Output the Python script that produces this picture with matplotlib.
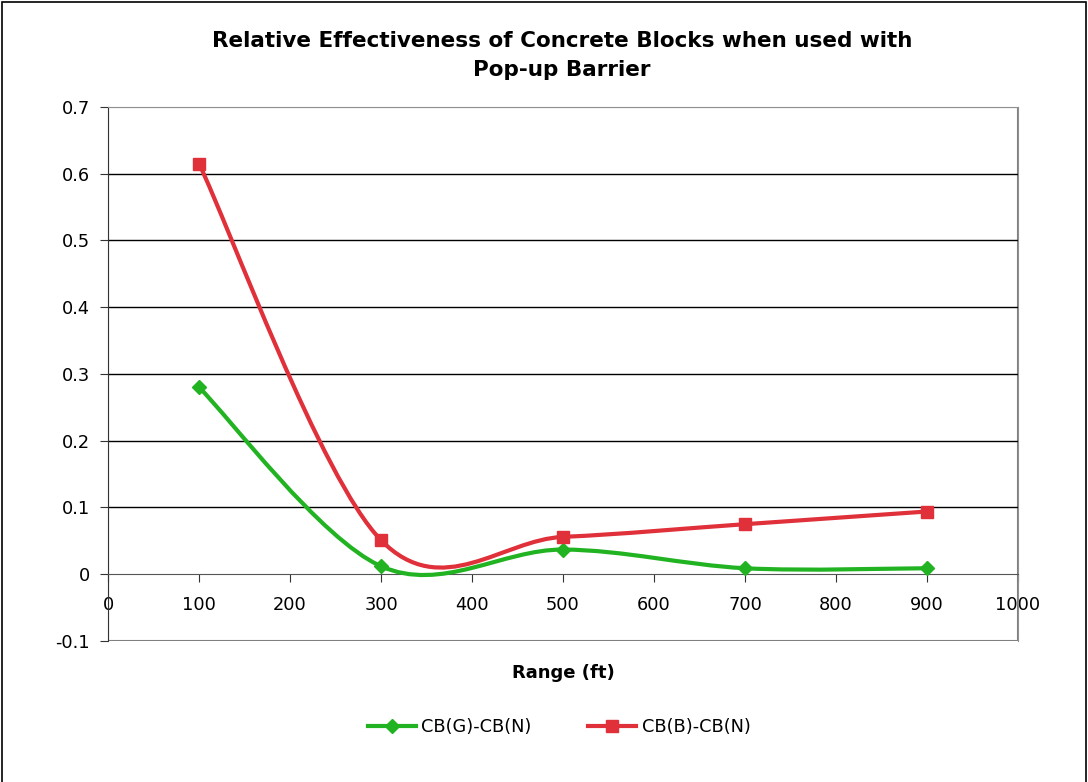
import numpy as np
import matplotlib
matplotlib.use("Agg")
import matplotlib.pyplot as plt
from matplotlib.path import Path
from matplotlib.patches import PathPatch, Rectangle
from matplotlib.lines import Line2D

# data
range_ft = [100, 300, 500, 700, 900]
cb_g = [0.280, 0.012, 0.037, 0.009, 0.009]
cb_b = [0.615, 0.051, 0.056, 0.075, 0.094]
series_names = ["CB(G)-CB(N)", "CB(B)-CB(N)"]
x_ticks = list(range(0, 1001, 100))
y_ticks = [-0.1, 0, 0.1, 0.2, 0.3, 0.4, 0.5, 0.6, 0.7]
y_labels = ["-0.1", "0", "0.1", "0.2", "0.3", "0.4", "0.5", "0.6", "0.7"]

green = "#22b322"
red = "#e0303a"
fs = 12.8

plt.rcParams["font.family"] = ["DejaVu Sans"]


def smooth_path(xs, ys):
    # Excel-style smoothed line: cubic bezier through every point
    p = np.column_stack([xs, ys]).astype(float)
    n = len(p)
    verts = [p[0]]
    codes = [Path.MOVETO]
    for i in range(n - 1):
        p0 = p[i - 1] if i > 0 else p[i]
        p3 = p[i + 2] if i + 2 < n else p[i + 1]
        c1 = p[i] + (p[i + 1] - p0) / 6.0
        c2 = p[i + 1] - (p3 - p[i]) / 6.0
        verts += [c1, c2, p[i + 1]]
        codes += [Path.CURVE4] * 3
    return Path(verts, codes)


fig = plt.figure(figsize=(10.88, 7.82), dpi=100)
fig.patches.append(Rectangle((0.002, -0.01), 0.996, 1.0075, transform=fig.transFigure,
                             fill=False, edgecolor="black", linewidth=1.2))

ax = fig.add_axes([0.0993, 0.1803, 0.8364, 0.6829])
ax.set_xlim(0, 1000)
ax.set_ylim(-0.1, 0.7)

for s in ["top", "right"]:
    ax.spines[s].set_color("#909090")
ax.spines["left"].set_color("#333333")
ax.spines["bottom"].set_position(("data", 0))
ax.spines["bottom"].set_color("#555555")
ax.add_patch(Rectangle((0, 0), 1, 1, transform=ax.transAxes, fill=False,
                       edgecolor="#808080", linewidth=1.5, zorder=1))

for y in y_ticks[2:-1]:
    ax.axhline(y, color="black", linewidth=1, zorder=1)

ax.set_yticks(y_ticks)
ax.set_yticklabels(y_labels)
ax.set_xticks(x_ticks)
ax.tick_params(axis="y", direction="out", length=6, labelsize=fs, pad=7, color="#333333")
ax.tick_params(axis="x", direction="out", length=6, labelsize=fs, pad=10, color="#333333")

for ys, col, mk, ms in [(cb_g, green, "D", 7), (cb_b, red, "s", 8)]:
    ax.add_patch(PathPatch(smooth_path(range_ft, ys), fill=False, edgecolor=col,
                           linewidth=3, capstyle="round", zorder=3))
    ax.plot(range_ft, ys, linestyle="none", marker=mk, markersize=ms, color=col,
            zorder=4, clip_on=False)

fig.text(0.5165, 0.929, "Relative Effectiveness of Concrete Blocks when used with\nPop-up Barrier",
         fontsize=15.5, fontweight="bold", ha="center", va="center", linespacing=1.55)
ax.set_xlabel("Range (ft)", fontsize=13, fontweight="bold")
ax.xaxis.set_label_coords(0.5, -0.06)
ax.xaxis.label.set_va("center")

handles = [Line2D([], [], color=green, lw=3, marker="D", markersize=7),
           Line2D([], [], color=red, lw=3, marker="s", markersize=8)]
fig.legend(handles, series_names, loc="center", bbox_to_anchor=(0.514, 0.0703), ncol=2,
           frameon=False, fontsize=fs, handlelength=2.7, handletextpad=0.3,
           columnspacing=3.2)

fig.savefig("out.png", dpi=100)
